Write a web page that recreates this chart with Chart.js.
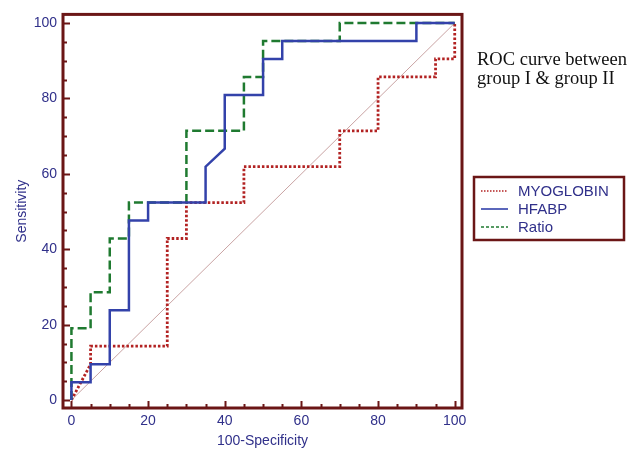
<!DOCTYPE html>
<html>
<head>
<meta charset="utf-8">
<title>ROC curve</title>
<script src="https://cdn.jsdelivr.net/npm/chart.js@4.4.1/dist/chart.umd.min.js"></script>
<style>
    html, body { margin: 0; padding: 0; background: #fff; }
    canvas { display: block; }
</style>
</head>
<body>
<canvas id="rocChart" width="636" height="455"></canvas>
<script>
// 100-Specificity (x) / Sensitivity (y) for each marker
const myoX   = [0, 5, 5, 25, 25, 30, 30, 45, 45, 70, 70, 80, 80, 95, 95, 100, 100];
const myoY   = [0, 9.52, 14.29, 14.29, 42.86, 42.86, 52.38, 52.38, 61.9, 61.9, 71.43, 71.43, 85.71, 85.71, 90.48, 90.48, 100];
const hfabpX = [0, 0, 5, 5, 10, 10, 15, 15, 20, 20, 35, 35, 40, 40, 50, 50, 55, 55, 90, 90, 100];
const hfabpY = [0, 4.76, 4.76, 9.52, 9.52, 23.81, 23.81, 47.62, 47.62, 52.38, 52.38, 61.9, 66.67, 80.95, 80.95, 90.48, 90.48, 95.24, 95.24, 100, 100];
const ratioX = [0, 0, 5, 5, 10, 10, 15, 15, 30, 30, 45, 45, 50, 50, 70, 70, 100];
const ratioY = [0, 19.05, 19.05, 28.57, 28.57, 42.86, 42.86, 52.38, 52.38, 71.43, 71.43, 85.71, 85.71, 95.24, 95.24, 100, 100];
const refX   = [0, 100];
const refY   = [0, 100];

const axisTicks = [0, 20, 40, 60, 80, 100];
const minorStep = 5;
const chartTitle = ['ROC curve between', 'group I & group II'];

const FRAME = '#6b1616';
const NAVY = '#30308a';
const SANS = '"Liberation Sans", Arial, sans-serif';
const SERIF = '"Liberation Serif", "Times New Roman", serif';

const toPoints = (xs, ys) => xs.map((x, i) => ({ x, y: ys[i] }));

// frame, inside ticks, title text and boxed legend
const rocDecor = {
    id: 'rocDecor',
    afterDatasetsDraw(chart) {
        const { ctx, chartArea: a, scales: { x, y } } = chart;
        ctx.save();
        ctx.strokeStyle = FRAME;
        ctx.setLineDash([]);

        // ticks pointing inwards
        ctx.lineWidth = 2;
        ctx.beginPath();
        for (let v = axisTicks[0]; v <= axisTicks[axisTicks.length - 1]; v += minorStep) {
            const len = axisTicks.includes(v) ? 7 : 4;
            const px = Math.round(x.getPixelForValue(v)) + 0.5;
            ctx.moveTo(px, a.bottom);
            ctx.lineTo(px, a.bottom - len);
            const py = Math.round(y.getPixelForValue(v)) + 0.5;
            ctx.moveTo(a.left, py);
            ctx.lineTo(a.left + len, py);
        }
        ctx.stroke();

        ctx.lineWidth = 3;
        ctx.strokeRect(a.left, a.top, a.right - a.left, a.bottom - a.top);
        ctx.restore();
    },
    afterDraw(chart) {
        const { ctx, chartArea: a } = chart;
        ctx.save();

        // title
        ctx.fillStyle = '#111';
        ctx.font = '18.5px ' + SERIF;
        ctx.textBaseline = 'alphabetic';
        chartTitle.forEach((line, i) => ctx.fillText(line, a.right + 15, 65 + i * 19));

        // legend
        const left = a.right + 12, top = 177, w = 150, h = 63;
        ctx.strokeStyle = FRAME;
        ctx.lineWidth = 2.5;
        ctx.strokeRect(left, top, w, h);

        ctx.font = '15px ' + SANS;
        ctx.textBaseline = 'middle';
        chart.data.datasets.filter(ds => ds.inLegend).forEach((ds, i) => {
            const cy = top + 14 + i * 18;
            ctx.strokeStyle = ds.borderColor;
            ctx.lineWidth = 1.6;
            ctx.setLineDash(ds.legendDash || []);
            ctx.beginPath();
            ctx.moveTo(left + 7, cy);
            ctx.lineTo(left + 34, cy);
            ctx.stroke();
            ctx.fillStyle = NAVY;
            ctx.fillText(ds.label, left + 44, cy + 1);
        });
        ctx.restore();
    }
};

const axisFont = { family: SANS, size: 14 };

new Chart(document.getElementById('rocChart'), {
    type: 'line',
    data: {
        datasets: [
            {
                label: 'MYOGLOBIN', data: toPoints(myoX, myoY), inLegend: true,
                borderColor: '#b22222', borderWidth: 2.8, borderDash: [2.5, 2], legendDash: [1.5, 1.5], order: 2
            },
            {
                label: 'HFABP', data: toPoints(hfabpX, hfabpY), inLegend: true,
                borderColor: '#3342aa', borderWidth: 2.5, order: 0
            },
            {
                label: 'Ratio', data: toPoints(ratioX, ratioY), inLegend: true,
                borderColor: '#1f7a30', borderWidth: 2.5, borderDash: [9, 4], legendDash: [3, 2], order: 1
            },
            {
                label: 'reference', data: toPoints(refX, refY),
                borderColor: '#c9a3a3', borderWidth: 1, order: 3
            }
        ]
    },
    options: {
        responsive: false,
        animation: false,
        devicePixelRatio: 1,
        layout: { padding: { top: 8, right: 174, bottom: 0, left: 0 } },
        elements: {
            point: { radius: 0, hoverRadius: 0 },
            line: { tension: 0, borderCapStyle: 'butt', borderJoinStyle: 'miter' }
        },
        plugins: { legend: { display: false }, tooltip: { enabled: false } },
        scales: {
            x: {
                type: 'linear', min: -2.2, max: 101.9,
                grid: { display: false, drawTicks: false },
                border: { display: false },
                ticks: { color: NAVY, font: axisFont, padding: 5 },
                title: { display: true, text: '100-Specificity', color: NAVY, font: axisFont, padding: { bottom: 5 } },
                afterBuildTicks: s => { s.ticks = axisTicks.map(v => ({ value: v })); },
                afterFit: s => { s.height = 47; }
            },
            y: {
                type: 'linear', min: -2.1, max: 102.3,
                grid: { display: false, drawTicks: false },
                border: { display: false },
                ticks: { color: NAVY, font: axisFont, padding: 6 },
                title: { display: true, text: 'Sensitivity', color: NAVY, font: axisFont, padding: { top: 14 } },
                afterBuildTicks: s => { s.ticks = axisTicks.map(v => ({ value: v })); },
                afterFit: s => { s.width = 63; }
            }
        }
    },
    plugins: [rocDecor]
});
</script>
</body>
</html>
